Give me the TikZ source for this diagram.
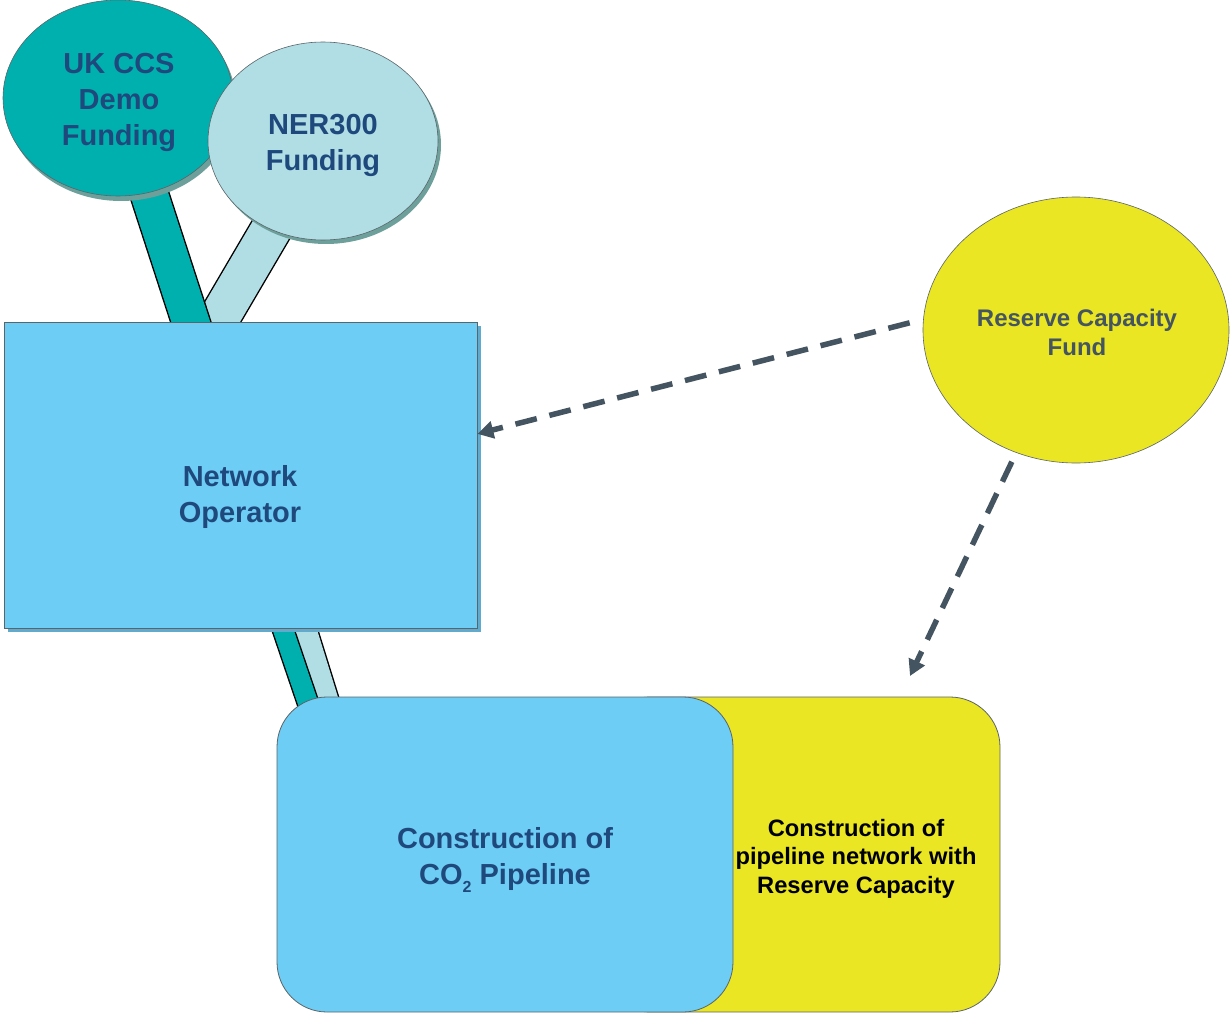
\documentclass[tikz,border=0pt]{standalone}
\usepackage{fontspec}
\setmainfont{Liberation Sans}
\usetikzlibrary{shapes.geometric,arrows.meta,calc}
\definecolor{ukteal}{RGB}{0,176,174}
\definecolor{nerblue}{RGB}{176,222,228}
\definecolor{boxblue}{RGB}{109,205,244}
\definecolor{fundyel}{RGB}{234,230,35}
\definecolor{navytext}{RGB}{31,73,125}
\definecolor{slatetext}{RGB}{68,84,96}
\definecolor{edgegray}{RGB}{90,100,105}
\definecolor{ellshadow}{RGB}{110,160,155}
\definecolor{rectshadow}{RGB}{95,170,205}
\begin{document}
\begin{tikzpicture}[x=1pt,y=-1pt,
  bigtext/.style={font=\bfseries\fontsize{29}{36}\selectfont, text=navytext, align=center},
  fundtext/.style={font=\bfseries\fontsize{24}{29}\selectfont, text=slatetext, align=center},
  yeltext/.style={font=\bfseries\fontsize{23.7}{28.5}\selectfont, text=black, align=center},
  ell/.style={ellipse, draw=edgegray, line width=0.6pt, inner sep=0pt},
  shapebox/.style={rectangle, draw=edgegray, line width=0.8pt, inner sep=0pt},
  band/.style={draw=black, line width=1.4pt, double=#1},
  dasharrow/.style={draw=slatetext, line width=5.5pt, dash pattern=on 22pt off 13pt,
     -{Triangle[length=16pt,width=17pt]}}
]
\useasboundingbox (0,0) rectangle (1231,1014);

% band end coordinates
\coordinate (nerlow) at (127,475);
\coordinate (t1) at (248.5,528);
\coordinate (t2) at (333.5,778);
\coordinate (l1) at (274,528);
\coordinate (l2) at (351.5,778);
\coordinate (ukc) at (118,98);
\coordinate (nerc) at (323,141);
\coordinate (noc) at (240.5,475);

% upper stems
\draw[band=nerblue, double distance=40pt] (nerc) -- (nerlow);
\draw[band=ukteal, double distance=37pt] (ukc) -- (noc);
% lower stems
\draw[band=nerblue, double distance=22pt] (l1) -- (l2);
\draw[band=ukteal, double distance=20pt] (t1) -- (t2);

% funding ellipses with shadows
\fill[ellshadow] (121,103) ellipse [x radius=115pt, y radius=98pt];
\node[ell, fill=ukteal, minimum width=230pt, minimum height=196pt] (uk) at (ukc) {};
\node[bigtext] (uktext) at (119,102) {UK CCS\\Demo\\Funding};

\fill[ellshadow] (326,145) ellipse [x radius=115pt, y radius=99pt];
\node[ell, fill=nerblue, minimum width=230pt, minimum height=198pt] (ner) at (nerc) {};
\node[bigtext] (nertext) at (323,145) {NER300\\Funding};

% network operator
\fill[rectshadow] (8,326) rectangle (481,632);
\node[shapebox, fill=boxblue, minimum width=473pt, minimum height=306pt] (no) at (noc) {};
\node[bigtext] (notext) at (240,497) {Network\\Operator};

% reserve capacity fund
\node[ell, fill=fundyel, minimum width=306pt, minimum height=266pt] (rcf) at (1076,330) {};
\node[fundtext] (rcftext) at (1077,332.5) {Reserve Capacity\\Fund};

% bottom boxes
\node[shapebox, fill=fundyel, rounded corners=50pt, minimum width=400pt, minimum height=315pt] (yel) at (800,854.5) {};
\node[yeltext] (yeltxt) at (856,858.5) {Construction of\\pipeline network with\\Reserve Capacity};
\node[shapebox, fill=boxblue, rounded corners=50pt, minimum width=456pt, minimum height=315pt] (pipe) at (505,854.5) {};
\node[bigtext] (pipetext) at (505,860) {Construction of\\CO\raisebox{-0.3em}{\fontsize{16}{16}\selectfont 2} Pipeline};

% dashed arrows
\coordinate (a1e) at ($(no.north east)!0.366!(no.south east)$);
\coordinate (a2e) at (910,676);
\draw[dasharrow, shorten <=14pt] (rcf.176) -- (a1e);
\draw[dasharrow, shorten <=10pt] (rcf.244) -- (a2e);
\end{tikzpicture}
\end{document}
